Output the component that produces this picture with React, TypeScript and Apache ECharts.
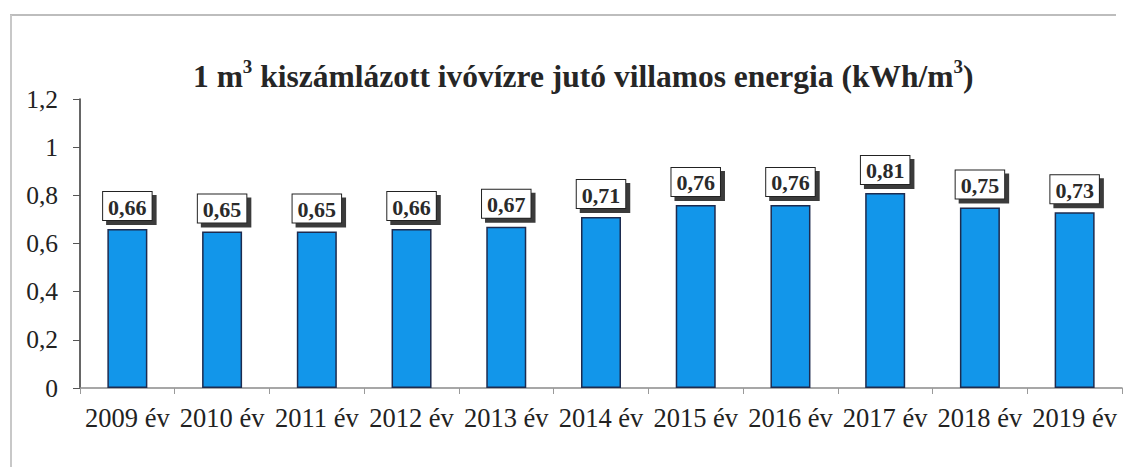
import React, { useEffect, useRef } from "react";
import * as echarts from "echarts";

const categories = [
  "2009 év", "2010 év", "2011 év", "2012 év", "2013 év", "2014 év",
  "2015 év", "2016 év", "2017 év", "2018 év", "2019 év",
];
const values = [0.66, 0.65, 0.65, 0.66, 0.67, 0.71, 0.76, 0.76, 0.81, 0.75, 0.73];
const titleParts = ["1 m", "3", " kiszámlázott ivóvízre jutó villamos energia (kWh/m", "3", ")"];
const yMin = 0;
const yMax = 1.2;
const yStep = 0.2;

const serif = "Liberation Serif";

export default function App() {
  const ref = useRef<HTMLDivElement>(null);
  useEffect(() => {
    if (!ref.current) return;
    const chart = echarts.init(ref.current, null, { renderer: "svg" });
    const titleText =
      "{m|" + titleParts[0] + "}{sup|" + titleParts[1] + "}{m|" + titleParts[2] +
      "}{sup|" + titleParts[3] + "}{m|" + titleParts[4] + "}";
    chart.setOption({
      animation: false,
      backgroundColor: "#ffffff",
      title: {
        text: titleText,
        left: 188,
        top: 52,
        textStyle: {
          fontFamily: serif,
          fontWeight: "bold",
          fontSize: 31.5,
          color: "#262626",
          rich: {
            m: {
              fontFamily: serif,
              fontWeight: "bold",
              fontSize: 31.5,
              color: "#262626",
              lineHeight: 38,
            },
            sup: {
              fontFamily: serif,
              fontWeight: "bold",
              fontSize: 19,
              color: "#262626",
              lineHeight: 38,
              verticalAlign: "top",
              padding: [0, 0, 14, 0],
            },
          },
        },
      },
      graphic: [
        {
          type: "line",
          shape: { x1: 10, y1: 15, x2: 1116, y2: 15 },
          style: { stroke: "#bdbdbd", lineWidth: 2 },
        },
        {
          type: "line",
          shape: { x1: 11, y1: 15, x2: 11, y2: 467 },
          style: { stroke: "#c8c8c8", lineWidth: 2 },
        },
      ],
      grid: { left: 80, right: 6, top: 99, bottom: 79, containLabel: false },
      xAxis: {
        type: "category",
        data: categories,
        axisLine: { show: true, lineStyle: { color: "#8a8a8a", width: 1.5 } },
        axisTick: { show: true, length: 6, lineStyle: { color: "#9a9a9a" } },
        axisLabel: {
          fontFamily: serif,
          fontSize: 26.5,
          color: "#222",
          margin: 16,
          interval: 0,
        },
      },
      yAxis: {
        type: "value",
        min: yMin,
        max: yMax,
        interval: yStep,
        splitLine: { show: false },
        axisLine: { show: true, lineStyle: { color: "#333", width: 1.5 } },
        axisTick: { show: true, length: 7, lineStyle: { color: "#555" } },
        axisLabel: {
          fontFamily: serif,
          fontSize: 25.5,
          color: "#222",
          margin: 22,
          formatter: (v: number) => String(Math.round(v * 10) / 10).replace(".", ","),
        },
      },
      series: [
        {
          type: "bar",
          data: values,
          barWidth: 40,
          itemStyle: {
            color: "#1296ea",
            borderColor: "#1d2b4f",
            borderWidth: 1.5,
          },
          label: {
            show: true,
            position: "top",
            distance: 9,
            formatter: (p: any) => Number(p.value).toFixed(2).replace(".", ","),
            fontFamily: serif,
            fontWeight: "bold",
            fontSize: 22,
            color: "#2a2a2a",
            backgroundColor: "#ffffff",
            borderColor: "#222",
            borderWidth: 1,
            padding: [4, 5, 2, 5],
            shadowColor: "#3a3a3a",
            shadowOffsetX: 4,
            shadowOffsetY: 4,
            shadowBlur: 0,
          },
        },
      ],
    });
    return () => chart.dispose();
  }, []);
  return (
    <div
      ref={ref}
      style={{ position: "fixed", left: 0, top: 0, width: 1128, height: 467 }}
    />
  );
}
